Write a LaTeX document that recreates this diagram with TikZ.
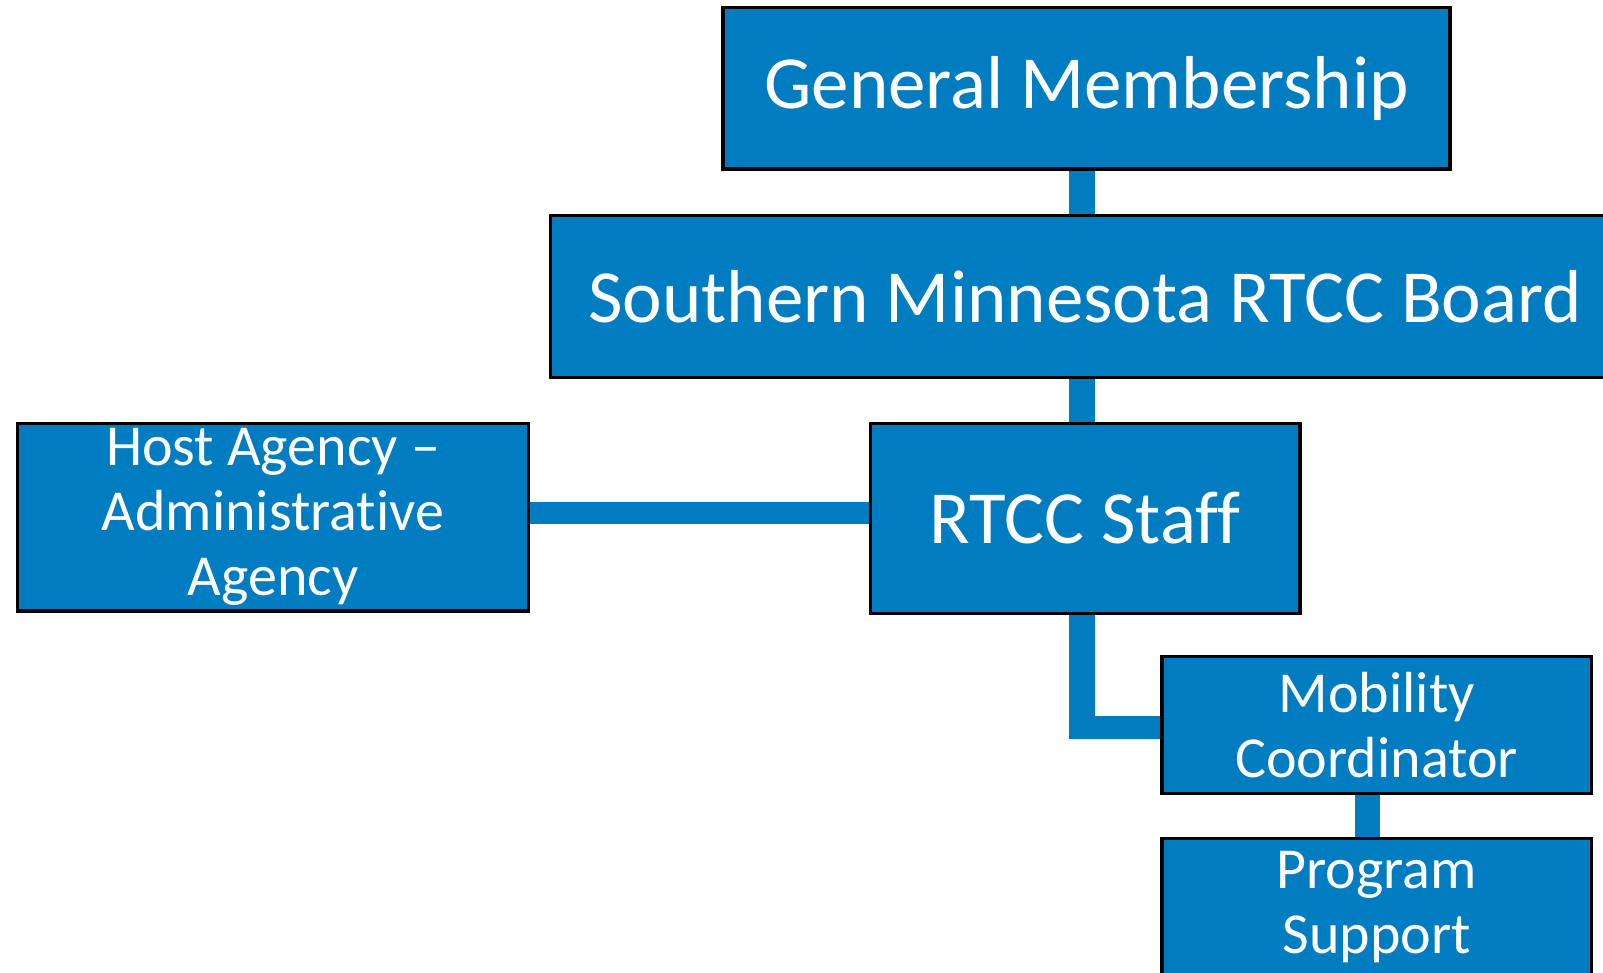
\documentclass[tikz,border=0pt]{standalone}
\usepackage{fontspec}
\setmainfont{Carlito}[Ligatures=NoCommon]
\usetikzlibrary{backgrounds}
\definecolor{boxblue}{RGB}{0,125,193}
\tikzset{
  orgbox/.style={draw=black, line width=3.5pt, fill=boxblue, text=white,
    rectangle, inner sep=0pt, outer sep=0pt, align=center},
  bigtext/.style={font=\fontsize{75}{80}\selectfont},
  smalltext/.style={font=\fontsize{58}{65}\selectfont},
  conn/.style={draw=boxblue, line cap=butt}
}
\begin{document}
\begin{tikzpicture}[x=1pt,y=-1pt]
\clip (0,0) rectangle (1603,973);
% boxes
\node[orgbox,bigtext,minimum width=727pt,minimum height=161.5pt] (gm) at (1086.5,88.25) {General Membership};
\node[orgbox,bigtext,minimum width=1069.5pt,minimum height=162pt] (board) at (1085.25,296.5) {Southern Minnesota RTCC Board};
\node[orgbox,bigtext,minimum width=429.5pt,minimum height=190pt] (staff) at (1085.25,518.5) {RTCC Staff};
\node[orgbox,smalltext,minimum width=511pt,minimum height=187.5pt] (host) at (273,517.25) {Host Agency –\\Administrative\\Agency};
\node[orgbox,smalltext,minimum width=429.5pt,minimum height=137pt] (mob) at (1376.75,725) {Mobility\\Coordinator};
\node[orgbox,smalltext,minimum width=429.5pt,minimum height=137pt] (prog) at (1376.75,907) {Program\\Support};
% connectors
\begin{scope}[on background layer]
\fill[white] (0,0) rectangle (1603,973);
\draw[conn,line width=26pt] ([xshift=-4.5pt]gm.south) -- ([xshift=-3.25pt]board.north);
\draw[conn,line width=26pt] ([xshift=-3.25pt]board.south) -- ([xshift=-3.25pt]staff.north);
\draw[conn,line width=22pt] ([yshift=4.25pt]host.east) -- ([yshift=5.5pt]staff.west);
\fill[boxblue] ([xshift=-16.25pt]staff.south) -- ([xshift=9.75pt]staff.south)
  |- ([yshift=9pt]mob.west) -- ([yshift=-14pt]mob.west) -| cycle;
\draw[conn,line width=25pt] ([xshift=-9.25pt]mob.south) -- ([xshift=-9.25pt]prog.north);
\end{scope}
\end{tikzpicture}
\end{document}
